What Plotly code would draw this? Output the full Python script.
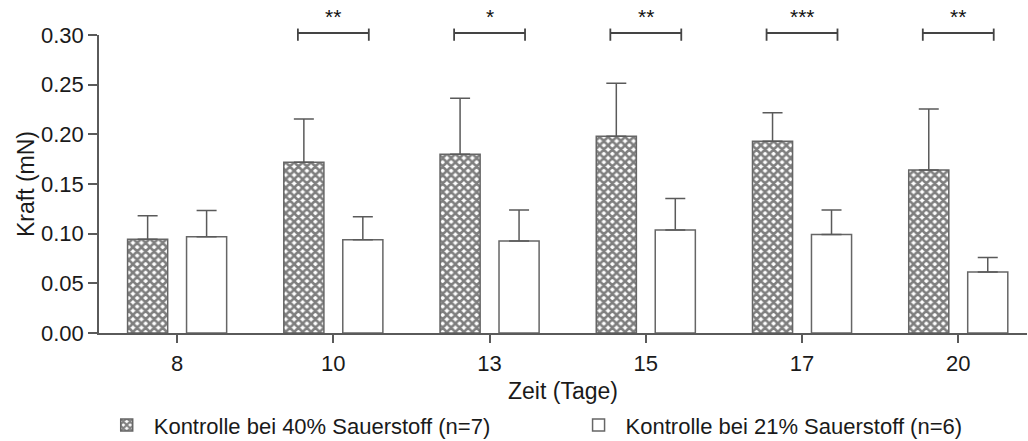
import plotly.graph_objects as go

# Measured force per day, mean and upper SD
days = ["8", "10", "13", "15", "17", "20"]
o2_40_mean = [0.0945, 0.172, 0.180, 0.198, 0.193, 0.164]
o2_40_sd = [0.0235, 0.0435, 0.0563, 0.0534, 0.0288, 0.0616]
o2_21_mean = [0.0968, 0.0938, 0.0925, 0.1036, 0.0992, 0.0613]
o2_21_sd = [0.0265, 0.0232, 0.0312, 0.0318, 0.0245, 0.0147]
sig_labels = ["", "**", "*", "**", "***", "**"]

name_40 = "Kontrolle bei 40% Sauerstoff (n=7)"
name_21 = "Kontrolle bei 21% Sauerstoff (n=6)"

Y_MAX = 0.30
AXIS_GRAY = "#5a5a5a"
TEXT = "#1a1a1a"
FONT = "Liberation Sans, Arial, sans-serif"

fig = go.Figure()

fig.add_trace(go.Bar(
    x=days, y=o2_40_mean, name=name_40, legend="legend",
    marker=dict(
        color="white",
        line=dict(color="#666666", width=1.5),
        pattern=dict(shape="x", fgcolor="black", bgcolor="white",
                     size=6, solidity=0.68),
    ),
    error_y=dict(type="data", array=o2_40_sd, arrayminus=[0] * len(days),
                 symmetric=False, color=AXIS_GRAY, thickness=1.5, width=10),
))

fig.add_trace(go.Bar(
    x=days, y=o2_21_mean, name=name_21, legend="legend2",
    marker=dict(color="white", line=dict(color="#666666", width=1.5)),
    error_y=dict(type="data", array=o2_21_sd, arrayminus=[0] * len(days),
                 symmetric=False, color=AXIS_GRAY, thickness=1.5, width=10),
))

# Significance brackets and stars above each pair
bracket_level = 0.302 / Y_MAX
tick_top = 0.3065 / Y_MAX
tick_bot = 0.2942 / Y_MAX
star_level = 0.319 / Y_MAX
half = 0.227
for i, lab in enumerate(sig_labels):
    if not lab:
        continue
    line = dict(color="#444444", width=1.8)
    fig.add_shape(type="line", xref="x", yref="paper",
                  x0=i - half, x1=i + half, y0=bracket_level, y1=bracket_level, line=line)
    for xe in (i - half, i + half):
        fig.add_shape(type="line", xref="x", yref="paper",
                      x0=xe, x1=xe, y0=tick_bot, y1=tick_top, line=line)
    fig.add_annotation(x=i, y=star_level, xref="x", yref="paper",
                       text=lab, showarrow=False,
                       font=dict(family=FONT, size=21, color="#111111"),
                       yanchor="middle")

legend_common = dict(
    orientation="h", xref="container", yref="container",
    y=0.036, xanchor="left", yanchor="middle",
    font=dict(family=FONT, size=22, color=TEXT),
    bgcolor="rgba(0,0,0,0)", itemwidth=44,
)

fig.update_layout(
    width=1028, height=441,
    margin=dict(l=99, r=1, t=35, b=108, autoexpand=False),
    paper_bgcolor="white", plot_bgcolor="white",
    barmode="group", bargap=0.245, bargroupgap=0.32,
    font=dict(family=FONT, color=TEXT),
    showlegend=True,
    legend=dict(x=0.097, **legend_common),
    legend2=dict(x=0.556, **legend_common),
    xaxis=dict(
        type="category", range=[-0.5, 5.44],
        showline=True, linecolor=AXIS_GRAY, linewidth=1.5,
        ticks="outside", ticklen=8, tickwidth=1.5, tickcolor=AXIS_GRAY,
        tickfont=dict(family=FONT, size=22, color=TEXT),
        ticklabelstandoff=2,
        title=dict(text="Zeit (Tage)", font=dict(family=FONT, size=23, color=TEXT),
                   standoff=20),
        showgrid=False, zeroline=False,
    ),
    yaxis=dict(
        range=[0, Y_MAX],
        tickvals=[0, 0.05, 0.10, 0.15, 0.20, 0.25, 0.30],
        tickformat=".2f",
        showline=True, linecolor=AXIS_GRAY, linewidth=1.5,
        ticks="outside", ticklen=9, tickwidth=1.5, tickcolor=AXIS_GRAY,
        tickfont=dict(family=FONT, size=22, color=TEXT),
        title=dict(text="Kraft (mN)", font=dict(family=FONT, size=23, color=TEXT),
                   standoff=0),
        showgrid=False, zeroline=False,
    ),
)

fig.write_html("out.html")
